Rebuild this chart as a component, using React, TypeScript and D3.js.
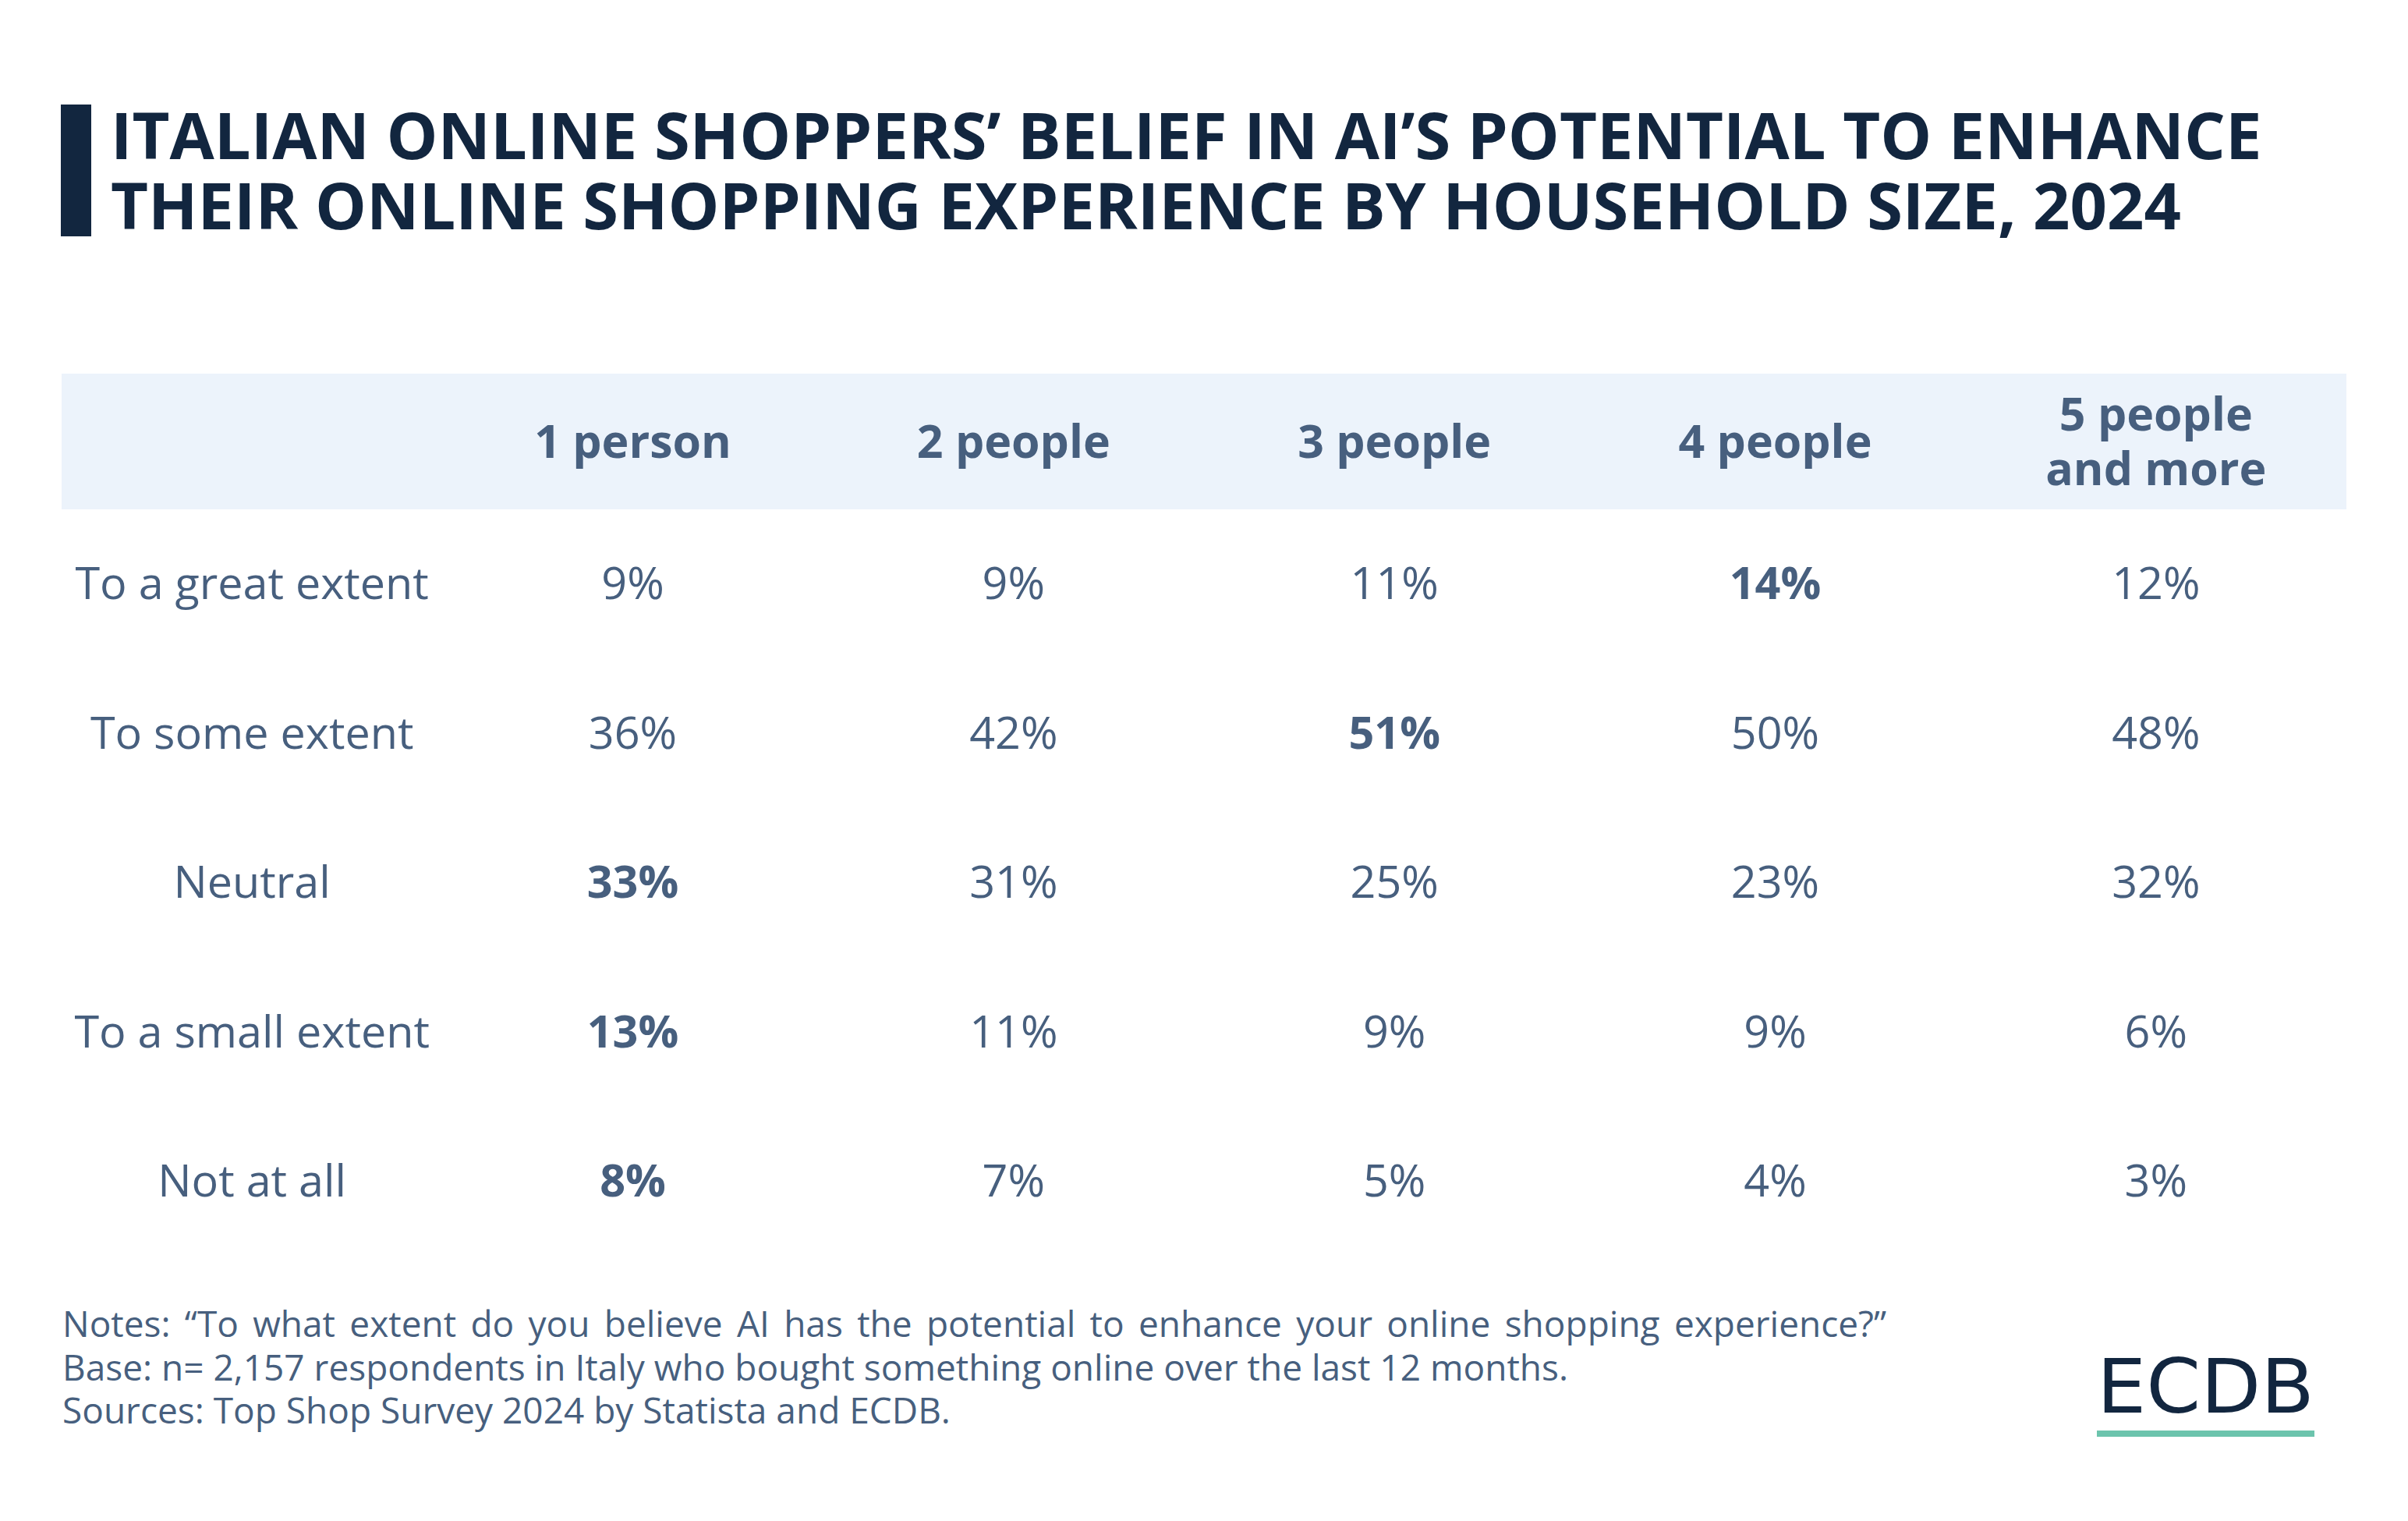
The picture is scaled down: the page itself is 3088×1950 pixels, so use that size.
import React, { useEffect, useRef } from "react";
import * as d3 from "d3";

const titleLines = [
  "ITALIAN ONLINE SHOPPERS\u2019 BELIEF IN AI\u2019S POTENTIAL TO ENHANCE",
  "THEIR ONLINE SHOPPING EXPERIENCE BY HOUSEHOLD SIZE, 2024",
];
const columns = ["1 person", "2 people", "3 people", "4 people", "5 people and more"];
const columnLines = [["1 person"], ["2 people"], ["3 people"], ["4 people"], ["5 people", "and more"]];
const rows = ["To a great extent", "To some extent", "Neutral", "To a small extent", "Not at all"];
const greatExtent = [9, 9, 11, 14, 12];
const someExtent = [36, 42, 51, 50, 48];
const neutral = [33, 31, 25, 23, 32];
const smallExtent = [13, 11, 9, 9, 6];
const notAtAll = [8, 7, 5, 4, 3];
const values = [greatExtent, someExtent, neutral, smallExtent, notAtAll];
const notes = [
  "Notes: \u201CTo what extent do you believe AI has the potential to enhance your online shopping experience?\u201D",
  "Base: n= 2,157 respondents in Italy who bought something online over the last 12 months.",
  "Sources: Top Shop Survey 2024 by Statista and ECDB.",
];

const W = 3088;
const H = 1950;
const TEXT = "#475f7e";
const NAVY = "#12263f";
const FONT = "'Open Sans', sans-serif";
const JUSTIFY_WIDTH = 2339;

export default function App() {
  const noteRef = useRef<SVGTextElement | null>(null);
  useEffect(() => {
    const el = noteRef.current;
    if (!el) return;
    el.setAttribute("word-spacing", "0");
    const natural = el.getComputedTextLength();
    const spaces = (notes[0].match(/ /g) || []).length;
    const ws = (JUSTIFY_WIDTH - natural) / spaces;
    if (ws > 0) el.setAttribute("word-spacing", String(ws));
  }, []);

  const x = d3.scaleBand<string>().domain(["__label", ...columns]).range([79, 3009]).padding(0);
  const bw = x.bandwidth();
  const cx = (k: string) => (x(k) as number) + bw / 2;
  const y = d3.scalePoint<string>().domain(rows).range([768, 1534]);

  return (
    <svg width={W} height={H} style={{ position: "absolute", left: 0, top: 0, background: "#fff" }}>
      <rect x={0} y={0} width={W} height={H} fill="#ffffff" />
      <rect x={78} y={134} width={39} height={169} fill={NAVY} />
      {titleLines.map((t, i) => (
        <text key={i} x={142} y={204 + i * 90} fontFamily={FONT} fontWeight={700} fontSize={83} fill={NAVY}>
          {t}
        </text>
      ))}
      <rect x={79} y={479} width={2930} height={174} fill="#ecf3fb" />
      {columns.map((c, i) => {
        const lines = columnLines[i];
        const base = lines.length === 1 ? 587 : 552;
        return lines.map((l, j) => (
          <text key={c + j} x={cx(c)} y={base + j * 70} textAnchor="middle" fontFamily={FONT} fontWeight={700} fontSize={59} fill={TEXT}>
            {l}
          </text>
        ));
      })}
      {rows.map((r, ri) => {
        const vals = values[ri];
        const mx = d3.max(vals) as number;
        const mi = vals.indexOf(mx);
        return (
          <g key={r}>
            <text x={cx("__label")} y={y(r)} textAnchor="middle" fontFamily={FONT} fontSize={57.5} fill={TEXT}>
              {r}
            </text>
            {vals.map((v, ci) => (
              <text key={ci} x={cx(columns[ci])} y={y(r)} textAnchor="middle" fontFamily={FONT} fontWeight={ci === mi ? 700 : 400} fontSize={57.5} fill={TEXT}>
                {v}%
              </text>
            ))}
          </g>
        );
      })}
      {notes.map((n, i) => (
        <text key={i} ref={i === 0 ? noteRef : undefined} x={80} y={1714 + i * 55.5} fontFamily={FONT} fontSize={46} fill={TEXT}>
          {n}
        </text>
      ))}
      <text x={2689} y={1811} fontFamily="'DejaVu Sans', sans-serif" fontWeight={400} fontSize={96} fill={NAVY} textLength={279} lengthAdjust="spacingAndGlyphs">
        ECDB
      </text>
      <rect x={2689} y={1834} width={279} height={8} fill="#6cc4ad" />
    </svg>
  );
}
